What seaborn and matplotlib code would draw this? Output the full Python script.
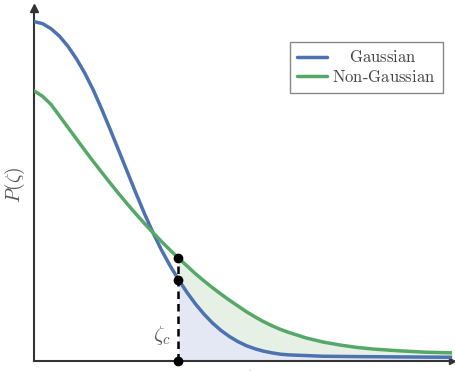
import numpy as np
import pandas as pd
import matplotlib
matplotlib.use("Agg")
import matplotlib.pyplot as plt
import seaborn as sns
from matplotlib.lines import Line2D

# Values (x in units of zeta, y normalised to the Gaussian peak)
gauss_x = [0.0, 0.1, 0.2, 0.3, 0.4, 0.5, 0.6, 0.7, 0.8, 0.9,
           1.0, 1.1, 1.2, 1.3, 1.4, 1.5, 1.6, 1.7, 1.8, 1.9,
           2.0, 2.1, 2.2, 2.3, 2.4, 2.5, 2.6, 2.7, 2.8, 2.9,
           3.0, 3.2, 3.4, 3.8, 4.3, 4.92]
gauss_y = [1.000, 0.994, 0.979, 0.957, 0.927, 0.890, 0.847, 0.797, 0.740, 0.680,
           0.618, 0.556, 0.494, 0.434, 0.378, 0.327, 0.281, 0.240, 0.202, 0.168,
           0.138, 0.112, 0.090, 0.072, 0.057, 0.045, 0.036, 0.029, 0.024, 0.020,
           0.018, 0.016, 0.014, 0.013, 0.012, 0.011]
nong_x = [0.0, 0.1, 0.2, 0.3, 0.4, 0.5, 0.6, 0.7, 0.8, 0.9,
          1.0, 1.1, 1.2, 1.3, 1.4, 1.5, 1.6, 1.7, 1.8, 1.9,
          2.0, 2.1, 2.2, 2.3, 2.4, 2.5, 2.6, 2.7, 2.8, 2.9,
          3.0, 3.2, 3.4, 3.6, 3.8, 4.0, 4.3, 4.6, 4.92]
nong_y = [0.796, 0.780, 0.756, 0.722, 0.688, 0.654, 0.620, 0.587, 0.555, 0.523,
          0.492, 0.462, 0.433, 0.405, 0.378, 0.352, 0.327, 0.303, 0.280, 0.257,
          0.236, 0.216, 0.197, 0.179, 0.162, 0.145, 0.130, 0.116, 0.104, 0.093,
          0.084, 0.068, 0.056, 0.047, 0.040, 0.035, 0.030, 0.026, 0.024]
zeta_c = 1.7
labels = ["Gaussian", "Non-Gaussian"]

sns.set_style("white")
plt.rcParams["mathtext.fontset"] = "cm"
plt.rcParams["font.family"] = ["DejaVu Serif"]

blue = "#4C72B0"
green = "#55A868"
ink = "#333333"

fig = plt.figure(figsize=(4.56, 3.71), dpi=100)
ax = fig.add_axes([34 / 456, 10 / 371, 418 / 456, 353 / 371])

df = pd.concat([
    pd.DataFrame({"x": gauss_x, "y": gauss_y, "kind": labels[0]}),
    pd.DataFrame({"x": nong_x, "y": nong_y, "kind": labels[1]}),
])
sns.lineplot(data=df, x="x", y="y", hue="kind", palette=[blue, green],
             linewidth=2.5, ax=ax, legend=False, sort=False, zorder=3)

# shaded tails beyond zeta_c
gx = np.array(gauss_x); gy = np.array(gauss_y)
nx = np.array(nong_x); ny = np.array(nong_y)
gm = gx >= zeta_c - 1e-9
ax.fill_between(gx[gm], 0, gy[gm], color="#e4e8f4", zorder=1, linewidth=0)
gy_on_n = np.interp(nx, gx, gy)
nm = nx >= zeta_c - 1e-9
ax.fill_between(nx[nm], gy_on_n[nm], ny[nm], color="#e6f0e4", zorder=1, linewidth=0)

# threshold marker
yg_c = float(np.interp(zeta_c, gx, gy))
yn_c = float(np.interp(zeta_c, nx, ny))
ax.plot([zeta_c, zeta_c], [0, yn_c], color="black", lw=1.8, ls=(0, (3, 2)), zorder=4)
ax.plot([zeta_c] * 3, [0, yg_c, yn_c], "o", color="black", ms=6, zorder=5, clip_on=False)
ax.text(zeta_c - 0.2, 0.075, r"$\zeta_c$", fontsize=15, color="#555555",
        ha="center", va="center")

ax.set_xlim(0, 4.918)
ax.set_ylim(0, 1.040)
ax.set_xticks([]); ax.set_yticks([])
for s in ["top", "right"]:
    ax.spines[s].set_visible(False)
for s in ["left", "bottom"]:
    ax.spines[s].set_color(ink)
    ax.spines[s].set_linewidth(1.5)
ax.plot(0, 1, "^", color=ink, ms=6, transform=ax.transAxes, clip_on=False)
ax.plot(1, 0, ">", color=ink, ms=4, transform=ax.transAxes, clip_on=False)

ax.set_xlabel("")
ax.set_ylabel(r"$P(\zeta)$", fontsize=14, color="#555555", labelpad=5)
ax.text(2.52, -0.02, r"$\zeta$", fontsize=14, color="#555555", ha="center",
        va="top", transform=ax.get_xaxis_transform(), clip_on=False)

handles = [Line2D([], [], color=blue, lw=2.5), Line2D([], [], color=green, lw=2.5)]
leg = ax.legend(handles, [r"$\quad\,\mathrm{Gaussian}$", r"$\mathrm{Non\text{-}Gaussian}$"],
                loc="upper right", bbox_to_anchor=(0.978, 0.904), fontsize=12,
                frameon=True, fancybox=False, edgecolor="#888888", framealpha=1,
                handlelength=1.8, handletextpad=0.3, borderpad=0.45, labelspacing=0.15,
                borderaxespad=0)
leg.get_frame().set_linewidth(1.0)
for t in leg.get_texts():
    t.set_color("#444444")

fig.savefig("out.png", dpi=100)
